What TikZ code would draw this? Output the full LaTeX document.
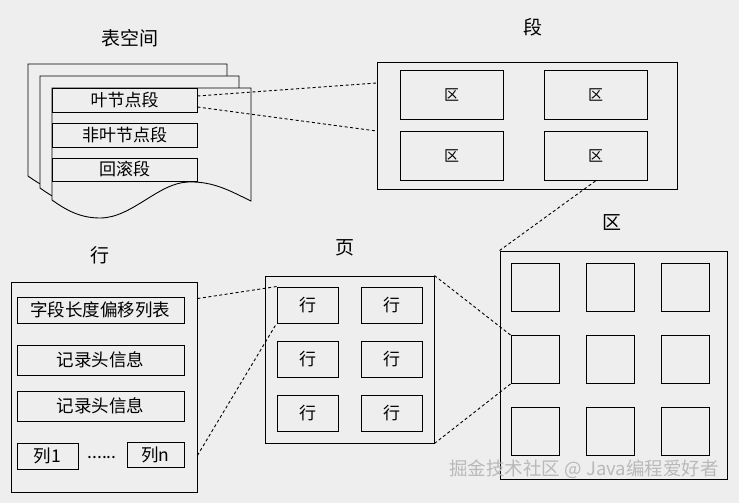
\documentclass[tikz,border=0pt]{standalone}
\usepackage{fontspec}
\setmainfont{Noto Sans CJK SC}
\usetikzlibrary{calc}
\definecolor{bg}{RGB}{238,238,238}
\definecolor{wm}{RGB}{185,185,185}
\tikzset{
  box/.style={draw=black, line width=0.9pt, fill=bg, inner sep=0pt, anchor=center},
  ttl/.style={inner sep=0pt, font=\fontsize{19}{22}\selectfont},
  txt/.style={font=\fontsize{17}{20}\selectfont},
  rtxt/.style={font=\fontsize{17.5}{20}\selectfont},
  qtxt/.style={font=\fontsize{15}{18}\selectfont},
  dline/.style={draw=black, line width=0.9pt, dash pattern=on 3pt off 2.5pt},
  sheet/.style={draw=black, line width=0.9pt, fill=bg}
}
\begin{document}
\begin{tikzpicture}[x=1pt,y=-1pt]
\useasboundingbox (0,0) rectangle (739,503);
\fill[bg] (0,0) rectangle (739,503);

% ---------- 表空间 ----------
\node[ttl] (tsT) at (130,38) {表空间};
\foreach \d in {24,12,0}{
  \path[sheet] ($(52,88)-(\d,\d)$) -- ($(251,88)-(\d,\d)$) -- ($(251,201)-(\d,\d)$)
    .. controls ($(232,192)-(\d,\d)$) and ($(214,181)-(\d,\d)$) .. ($(188,182)-(\d,\d)$)
    .. controls ($(158,183)-(\d,\d)$) and ($(132,218)-(\d,\d)$) .. ($(100,218)-(\d,\d)$)
    .. controls ($(80,218)-(\d,\d)$) and ($(66,210)-(\d,\d)$) .. ($(52,200)-(\d,\d)$) -- cycle;
}
\node[box, txt, minimum width=145pt, minimum height=24pt] (leaf) at (124.5,100) {叶节点段};
\node[box, txt, minimum width=145pt, minimum height=24pt] (nonleaf) at (124.5,135) {非叶节点段};
\node[box, txt, minimum width=145pt, minimum height=23pt] (undo) at (124.5,169.5) {回滚段};

% ---------- 段 ----------
\node[ttl] (segT) at (533,27) {段};
\node[box, minimum width=300pt, minimum height=127pt] (seg) at (527,125.5) {};
\node[box, qtxt, minimum width=103pt, minimum height=49pt] (q11) at (451.5,94.5) {区};
\node[box, qtxt, minimum width=103pt, minimum height=49pt] (q12) at (595.5,94.5) {区};
\node[box, qtxt, minimum width=103pt, minimum height=49pt] (q21) at (451.5,156) {区};
\node[box, qtxt, minimum width=103pt, minimum height=49pt] (q22) at (595.5,156) {区};

% ---------- 区 ----------
\node[ttl] (extT) at (612,223) {区};
\node[box, minimum width=227pt, minimum height=228pt] (ext) at (613.5,365) {};
\foreach \c/\x in {1/535,2/610,3/685}{
  \foreach \r/\y in {1/287,2/359.5,3/431}{
    \node[box, minimum width=48pt, minimum height=48pt] (sq\r\c) at (\x,\y) {};
  }
}

% ---------- 页 ----------
\node[ttl] (pageT) at (345,248) {页};
\node[box, minimum width=169pt, minimum height=167pt] (page) at (349.5,359.5) {};
\foreach \c/\x in {1/307.5,2/391.5}{
  \foreach \r/\y in {1/305,2/359.5,3/413.5}{
    \node[box, txt, minimum width=61pt, minimum height=36pt] (r\r\c) at (\x,\y) {行};
  }
}

% ---------- 行 ----------
\node[ttl] (rowT) at (100,255) {行};
\node[box, minimum width=186pt, minimum height=210pt] (row) at (104,387) {};
\node[box, rtxt, minimum width=167pt, minimum height=26pt] (fld) at (100.5,310) {字段长度偏移列表};
\node[box, rtxt, minimum width=167pt, minimum height=30pt] (hdr1) at (100.5,360) {记录头信息};
\node[box, rtxt, minimum width=167pt, minimum height=30pt] (hdr2) at (100.5,406) {记录头信息};
\node[box, rtxt, minimum width=61pt, minimum height=26pt] (col1) at (47.5,456) {列1};
\node[box, rtxt, minimum width=57pt, minimum height=25pt] (coln) at (155.5,454.5) {列n};
\node[rtxt, inner sep=0pt] (dots) at (102,458) {......};

% ---------- connectors ----------
\draw[dline] ([yshift=4pt]leaf.east) -- ([yshift=42.5pt]seg.west);
\draw[dline] ([yshift=-7pt]leaf.east) -- ([yshift=-5.5pt]seg.west);
\draw[dline] (q22.south) -- (ext.north west);
\draw[dline] (page.north east) -- (sq21.north west);
\draw[dline] (page.south east) -- (sq21.south west);
\draw[dline] ([yshift=-17pt]row.north east) -- (r11.north west);
\draw[dline] ([yshift=37pt]row.south east) -- (r11.south west);

% ---------- watermark ----------
\node[text=wm, inner sep=0pt, font=\fontsize{18.5}{21}\selectfont] (wmark) at (584,469) {掘金技术社区 @ Java编程爱好者};
\end{tikzpicture}
\end{document}
